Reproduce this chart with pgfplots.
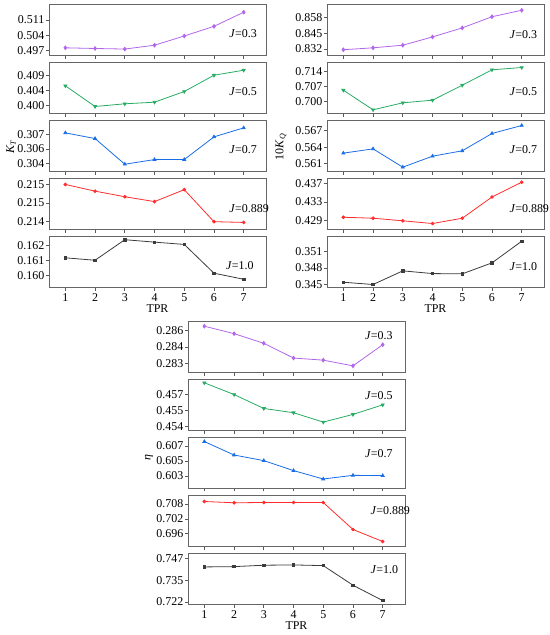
\documentclass[border=0pt]{standalone}
\usepackage{fontspec}
\setmainfont{Liberation Serif}
\usepackage{pgfplots}
\pgfplotsset{compat=1.18}
\definecolor{cP}{RGB}{178,102,235}
\definecolor{cG}{RGB}{40,172,100}
\definecolor{cB}{RGB}{25,110,230}
\definecolor{cR}{RGB}{255,45,45}
\definecolor{cK}{RGB}{60,60,60}
\newcommand{\tf}{\fontsize{12}{13}\selectfont}
\pgfplotsset{
  panel/.style={
    width=217bp, height=51bp, scale only axis,
    anchor=north west,
    xmin=0.45, xmax=7.75,
    xtick={1,2,3,4,5,6,7},
    xticklabels={},
    tick pos=left,
    tick align=outside,
    major tick length=3bp,
    axis line style={draw=black!60, line width=0.9bp},
    tick style={draw=black!65, line width=0.7bp},
    ticklabel style={font=\tf},
    yticklabel style={inner xsep=1.5bp},
    /pgf/number format/assume math mode=true,
    clip=false,
  },
  bottompanel/.style={
    xticklabels={1,2,3,4,5,6,7},
    xlabel={TPR},
    xlabel style={font=\tf, yshift=4bp},
  },
  sP/.style={color=cP, line width=0.8bp, mark=diamond*, mark size=1.8bp, mark options={solid}},
  sG/.style={color=cG, line width=0.8bp, mark=triangle*, mark size=1.7bp, mark options={rotate=180}},
  sB/.style={color=cB, line width=0.8bp, mark=triangle*, mark size=1.7bp},
  sR/.style={color=cR, line width=0.8bp, mark=*, mark size=1.4bp},
  sK/.style={color=cK, line width=0.8bp, mark=square*, mark size=1.2bp},
}
\begin{document}
\begin{tikzpicture}
\useasboundingbox (0,0) rectangle (550bp,-635bp);

% ===== K_T =====
\begin{axis}[panel, at={(49bp,-4.5bp)}, ymin=0.49466, ymax=0.51807,
  ytick={0.497,0.504,0.511}, yticklabels={0.497,0.504,0.511}]
\addplot[sP] coordinates {(1,0.49819) (2,0.49788) (3,0.49762) (4,0.49938) (5,0.50362) (6,0.50804) (7,0.51453)};
\node[anchor=west, font=\tf] at (rel axis cs:0.815,0.42) {\textit{J}=0.3};
\end{axis}
\begin{axis}[panel, at={(49bp,-62.5bp)}, ymin=0.39747, ymax=0.41262,
  ytick={0.3998,0.4043,0.4088}, yticklabels={0.400,0.404,0.409}]
\addplot[sG] coordinates {(1,0.40570) (2,0.39955) (3,0.40035) (4,0.40083) (5,0.40400) (6,0.40884) (7,0.41033)};
\node[anchor=west, font=\tf] at (rel axis cs:0.815,0.42) {\textit{J}=0.5};
\end{axis}
\begin{axis}[panel, at={(49bp,-120.5bp)}, ymin=0.30347, ymax=0.3083,
  ytick={0.3042,0.3056,0.3070}, yticklabels={0.304,0.306,0.307}]
\addplot[sB] coordinates {(1,0.30713) (2,0.30659) (3,0.30416) (4,0.3046) (5,0.3046) (6,0.30675) (7,0.3076)};
\node[anchor=west, font=\tf] at (rel axis cs:0.815,0.42) {\textit{J}=0.7};
\end{axis}
\begin{axis}[panel, at={(49bp,-178.5bp)}, ymin=0.21399, ymax=0.21536,
  ytick={0.2142,0.2147,0.2152}, yticklabels={0.214,0.215,0.215}]
\addplot[sR] coordinates {(1,0.2152) (2,0.21502) (3,0.21487) (4,0.21474) (5,0.21506) (6,0.2142) (7,0.21418)};
\node[anchor=west, font=\tf] at (rel axis cs:0.815,0.41) {\textit{J}=0.889};
\end{axis}
\begin{axis}[panel, bottompanel, at={(49bp,-236.5bp)}, ymin=0.15922, ymax=0.16257,
  ytick={0.160,0.161,0.162}, yticklabels={0.160,0.161,0.162}]
\addplot[sK] coordinates {(1,0.16117) (2,0.16101) (3,0.16236) (4,0.16220) (5,0.16205) (6,0.16016) (7,0.15976)};
\node[anchor=west, font=\tf] at (rel axis cs:0.80,0.42) {\textit{J}=1.0};
\end{axis}

% ===== 10 K_Q =====
\begin{axis}[panel, at={(327bp,-4.5bp)}, ymin=0.82672, ymax=0.86848,
  ytick={0.832,0.845,0.858}, yticklabels={0.832,0.845,0.858}]
\addplot[sP] coordinates {(1,0.83145) (2,0.83302) (3,0.83515) (4,0.84193) (5,0.84934) (6,0.85847) (7,0.86375)};
\node[anchor=west, font=\tf] at (rel axis cs:0.825,0.415) {\textit{J}=0.3};
\end{axis}
\begin{axis}[panel, at={(327bp,-62.5bp)}, ymin=0.69415, ymax=0.71843,
  ytick={0.700,0.707,0.714}, yticklabels={0.700,0.707,0.714}]
\addplot[sG] coordinates {(1,0.70524) (2,0.69591) (3,0.69924) (4,0.70048) (5,0.70762) (6,0.71495) (7,0.71605)};
\node[anchor=west, font=\tf] at (rel axis cs:0.825,0.42) {\textit{J}=0.5};
\end{axis}
\begin{axis}[panel, at={(327bp,-120.5bp)}, ymin=0.55961, ymax=0.5688,
  ytick={0.561,0.564,0.567}, yticklabels={0.561,0.564,0.567}]
\addplot[sB] coordinates {(1,0.56292) (2,0.56369) (3,0.56039) (4,0.56237) (5,0.56334) (6,0.56646) (7,0.5679)};
\node[anchor=west, font=\tf] at (rel axis cs:0.825,0.42) {\textit{J}=0.7};
\end{axis}
\begin{axis}[panel, at={(327bp,-178.5bp)}, ymin=0.42706, ymax=0.43808,
  ytick={0.429,0.433,0.437}, yticklabels={0.429,0.433,0.437}]
\addplot[sR] coordinates {(1,0.42971) (2,0.4295) (3,0.42894) (4,0.42835) (5,0.4295) (6,0.43408) (7,0.43728)};
\node[anchor=west, font=\tf] at (rel axis cs:0.825,0.41) {\textit{J}=0.889};
\end{axis}
\begin{axis}[panel, bottompanel, at={(327bp,-236.5bp)}, ymin=0.34446, ymax=0.35365,
  ytick={0.345,0.348,0.351}, yticklabels={0.345,0.348,0.351}]
\addplot[sK] coordinates {(1,0.34541) (2,0.345) (3,0.34746) (4,0.34697) (5,0.34692) (6,0.3489) (7,0.3528)};
\node[anchor=west, font=\tf] at (rel axis cs:0.825,0.41) {\textit{J}=1.0};
\end{axis}

% ===== eta =====
\begin{axis}[panel, at={(188bp,-321.5bp)}, ymin=0.28217, ymax=0.28683,
  ytick={0.2830,0.2845,0.2860}, yticklabels={0.283,0.284,0.286}]
\addplot[sP] coordinates {(1,0.2864) (2,0.28572) (3,0.28484) (4,0.28349) (5,0.2833) (6,0.28278) (7,0.28471)};
\node[anchor=west, font=\tf] at (rel axis cs:0.80,0.72) {\textit{J}=0.3};
\end{axis}
\begin{axis}[panel, at={(188bp,-379.5bp)}, ymin=0.45362, ymax=0.45841,
  ytick={0.4540,0.4555,0.4570}, yticklabels={0.454,0.455,0.457}]
\addplot[sG] coordinates {(1,0.4581) (2,0.457) (3,0.45569) (4,0.45529) (5,0.45441) (6,0.45513) (7,0.45603)};
\node[anchor=west, font=\tf] at (rel axis cs:0.80,0.69) {\textit{J}=0.5};
\end{axis}
\begin{axis}[panel, at={(188bp,-437bp)}, ymin=0.6014, ymax=0.6082,
  ytick={0.603,0.605,0.607}, yticklabels={0.603,0.605,0.607}]
\addplot[sB] coordinates {(1,0.60759) (2,0.6058) (3,0.60505) (4,0.60372) (5,0.6026) (6,0.60309) (7,0.60305)};
\node[anchor=west, font=\tf] at (rel axis cs:0.80,0.67) {\textit{J}=0.7};
\end{axis}
\begin{axis}[panel, at={(188bp,-495.5bp)}, ymin=0.69087, ymax=0.71147,
  ytick={0.696,0.702,0.708}, yticklabels={0.696,0.702,0.708}]
\addplot[sR] coordinates {(1,0.70905) (2,0.70853) (3,0.70865) (4,0.70865) (5,0.70865) (6,0.69774) (7,0.69289)};
\node[anchor=west, font=\tf] at (rel axis cs:0.825,0.70) {\textit{J}=0.889};
\end{axis}
\begin{axis}[panel, bottompanel, at={(188bp,-553.5bp)}, ymin=0.7210, ymax=0.7504,
  ytick={0.7225,0.7350,0.7475}, yticklabels={0.722,0.735,0.747}]
\addplot[sK] coordinates {(1,0.74266) (2,0.74284) (3,0.74365) (4,0.74382) (5,0.74342) (6,0.73212) (7,0.72325)};
\node[anchor=west, font=\tf] at (rel axis cs:0.825,0.69) {\textit{J}=1.0};
\end{axis}

% axis titles
\node[rotate=90, font=\tf] at (11bp,-147bp) {\textit{K}\textsubscript{\textit{T}}};
\node[rotate=90, font=\tf] at (281bp,-147bp) {10\textit{K}\textsubscript{\textit{Q}}};
\node[rotate=90, font=\tf] at (149bp,-458bp) {\textit{η}};
\end{tikzpicture}
\end{document}
